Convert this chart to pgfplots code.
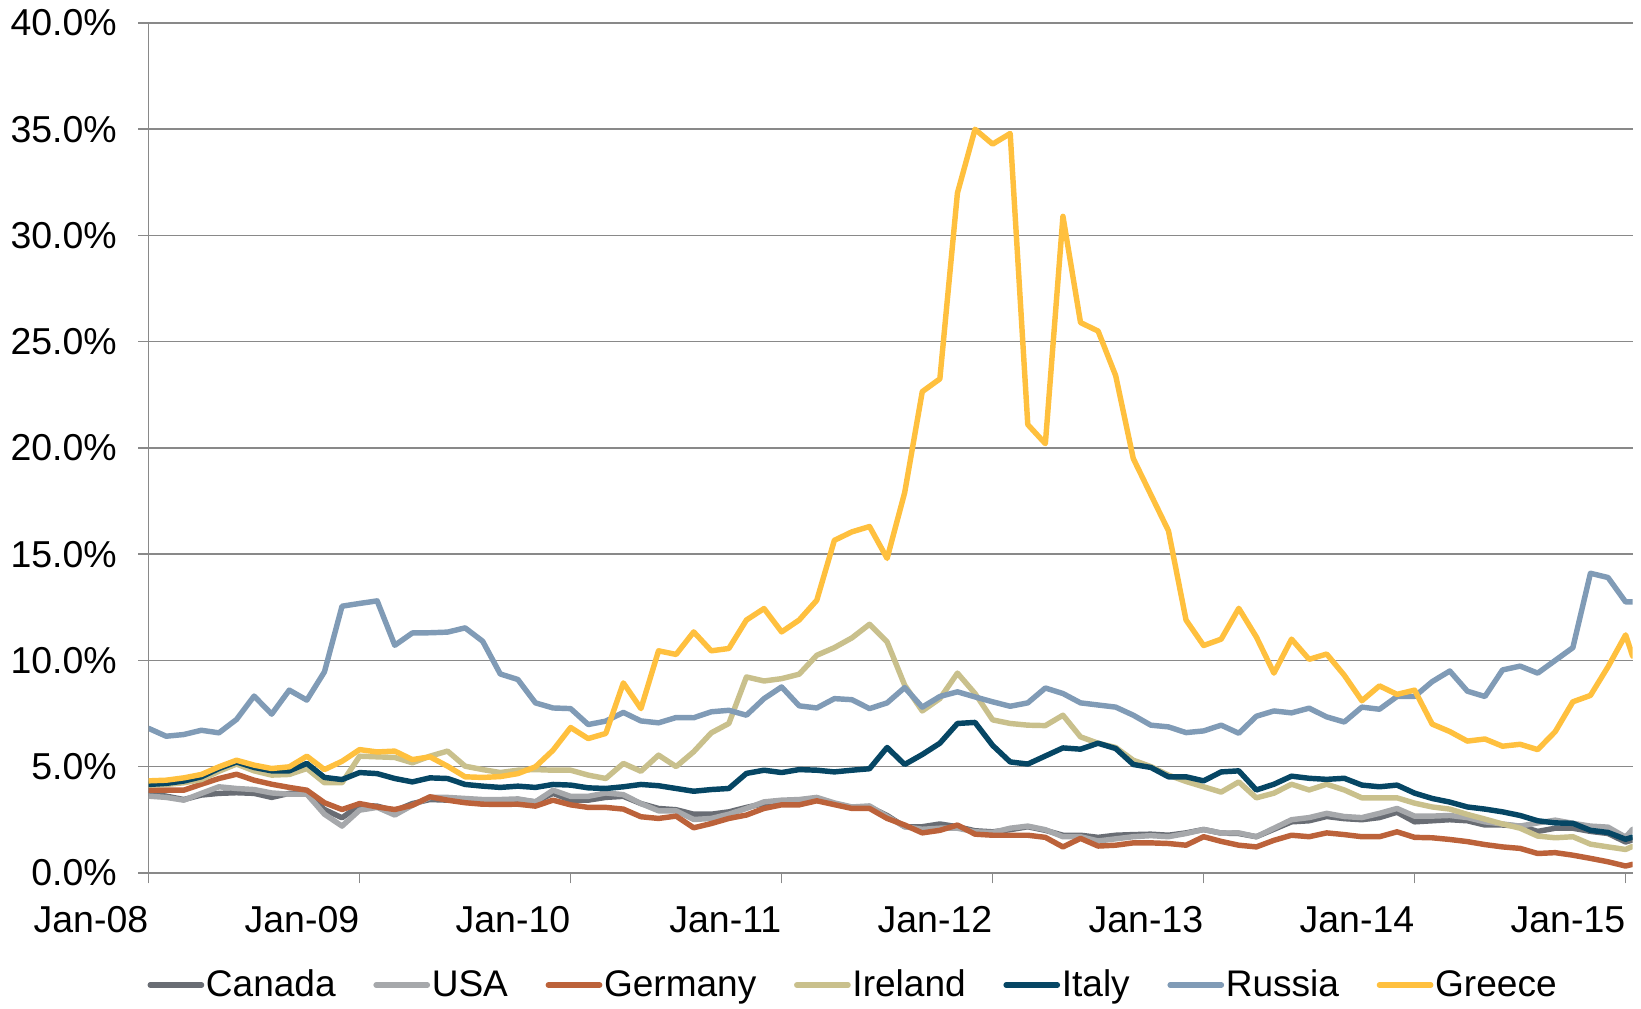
\documentclass[border=0pt]{standalone}
\usepackage{pgfplots}
\usepackage{pgfplotstable}
\pgfplotsset{compat=1.18}
\usepackage{fontspec}
\setmainfont{Liberation Sans}
\definecolor{cCanada}{RGB}{105,109,116}
\definecolor{cUSA}{RGB}{166,168,171}
\definecolor{cGermany}{RGB}{188,98,58}
\definecolor{cIreland}{RGB}{201,192,140}
\definecolor{cItaly}{RGB}{6,70,100}
\definecolor{cRussia}{RGB}{128,155,182}
\definecolor{cGreece}{RGB}{255,192,62}
\definecolor{cGrid}{RGB}{137,137,137}
\pgfplotstableread{
m ca us de ie it ru gr
0 3.74 3.61 3.89 4.13 4.16 6.80 4.33
1 3.61 3.55 3.89 4.16 4.21 6.43 4.36
2 3.45 3.42 3.89 4.24 4.32 6.51 4.47
3 3.66 3.74 4.17 4.39 4.52 6.71 4.63
4 3.74 4.05 4.44 4.78 4.91 6.59 4.99
5 3.77 3.97 4.64 5.12 5.22 7.22 5.30
6 3.74 3.92 4.36 4.80 4.96 8.32 5.07
7 3.55 3.76 4.17 4.60 4.80 7.47 4.91
8 3.74 3.70 4.02 4.63 4.80 8.60 4.99
9 3.74 3.70 3.89 4.91 5.15 8.13 5.49
10 2.98 2.76 3.30 4.24 4.49 9.46 4.86
11 2.59 2.20 2.98 4.24 4.39 12.55 5.25
12 3.18 2.95 3.26 5.49 4.72 12.68 5.80
13 3.14 3.08 3.10 5.46 4.67 12.80 5.69
14 2.92 2.72 2.98 5.43 4.44 10.71 5.73
15 3.26 3.18 3.18 5.18 4.28 11.29 5.33
16 3.45 3.55 3.58 5.49 4.47 11.30 5.46
17 3.42 3.55 3.42 5.73 4.44 11.33 5.02
18 3.45 3.50 3.30 5.02 4.16 11.53 4.52
19 3.39 3.45 3.23 4.86 4.08 10.90 4.49
20 3.36 3.45 3.22 4.72 4.02 9.36 4.53
21 3.45 3.48 3.23 4.83 4.08 9.10 4.67
22 3.34 3.34 3.14 4.86 4.02 8.00 4.99
23 3.74 3.89 3.42 4.83 4.16 7.76 5.77
24 3.42 3.60 3.20 4.83 4.13 7.73 6.84
25 3.42 3.60 3.08 4.60 4.00 6.98 6.32
26 3.55 3.76 3.08 4.44 3.97 7.14 6.56
27 3.60 3.68 3.00 5.15 4.05 7.55 8.94
28 3.26 3.26 2.64 4.78 4.16 7.15 7.73
29 3.03 2.92 2.56 5.54 4.10 7.06 10.45
30 2.97 2.92 2.67 5.00 3.97 7.31 10.28
31 2.76 2.51 2.12 5.70 3.84 7.30 11.34
32 2.76 2.56 2.32 6.59 3.92 7.58 10.45
33 2.87 2.76 2.56 7.03 3.97 7.65 10.56
34 3.08 3.03 2.72 9.22 4.68 7.42 11.90
35 3.26 3.34 3.03 9.03 4.83 8.20 12.44
36 3.34 3.42 3.20 9.14 4.72 8.75 11.34
37 3.39 3.45 3.20 9.35 4.86 7.86 11.90
38 3.42 3.55 3.39 10.24 4.83 7.76 12.83
39 3.26 3.29 3.21 10.60 4.75 8.20 15.65
40 3.08 3.10 3.03 11.06 4.83 8.15 16.05
41 3.10 3.15 3.03 11.70 4.90 7.73 16.30
42 2.70 2.65 2.56 10.87 5.90 8.00 14.80
43 2.17 2.17 2.25 8.83 5.10 8.72 17.90
44 2.17 2.05 1.88 7.62 5.57 7.80 22.65
45 2.30 2.10 2.00 8.20 6.10 8.30 23.25
46 2.17 2.10 2.25 9.40 7.03 8.52 32.00
47 1.98 1.93 1.82 8.44 7.08 8.28 35.00
48 1.93 1.90 1.77 7.20 6.00 8.05 34.30
49 2.03 2.10 1.77 7.03 5.22 7.84 34.80
50 2.17 2.20 1.77 6.95 5.12 8.00 21.10
51 2.00 2.03 1.67 6.93 5.50 8.70 20.20
52 1.77 1.70 1.22 7.42 5.88 8.44 30.90
53 1.77 1.70 1.62 6.40 5.82 8.00 25.90
54 1.67 1.50 1.26 6.10 6.10 7.90 25.50
55 1.77 1.60 1.30 5.90 5.85 7.80 23.40
56 1.80 1.70 1.41 5.30 5.10 7.42 19.50
57 1.82 1.75 1.41 5.00 4.96 6.95 17.80
58 1.77 1.70 1.38 4.60 4.52 6.87 16.10
59 1.88 1.85 1.30 4.30 4.52 6.60 11.90
60 2.04 2.04 1.70 4.05 4.33 6.68 10.70
61 1.87 1.87 1.48 3.80 4.75 6.95 11.00
62 1.85 1.88 1.30 4.28 4.80 6.57 12.45
63 1.70 1.70 1.22 3.53 3.90 7.37 11.10
64 2.05 2.10 1.53 3.75 4.17 7.62 9.40
65 2.40 2.50 1.77 4.17 4.55 7.53 11.00
66 2.45 2.60 1.70 3.90 4.45 7.75 10.05
67 2.65 2.80 1.88 4.17 4.40 7.34 10.30
68 2.55 2.65 1.80 3.90 4.45 7.10 9.30
69 2.50 2.60 1.70 3.53 4.13 7.80 8.10
70 2.60 2.80 1.70 3.53 4.05 7.70 8.80
71 2.85 3.03 1.93 3.53 4.13 8.30 8.40
72 2.40 2.67 1.67 3.28 3.75 8.30 8.60
73 2.45 2.67 1.65 3.10 3.50 9.00 7.00
74 2.50 2.70 1.57 3.00 3.33 9.50 6.65
75 2.45 2.60 1.47 2.75 3.10 8.55 6.20
76 2.25 2.40 1.33 2.53 3.00 8.30 6.30
77 2.25 2.30 1.22 2.30 2.87 9.55 5.96
78 2.20 2.20 1.15 2.10 2.70 9.73 6.05
79 1.95 2.35 0.91 1.73 2.45 9.40 5.80
80 2.10 2.48 0.95 1.65 2.35 10.00 6.65
81 2.10 2.33 0.83 1.70 2.33 10.60 8.05
82 1.95 2.20 0.68 1.35 2.00 14.10 8.35
83 1.85 2.15 0.52 1.22 1.90 13.90 9.70
84 1.45 1.68 0.32 1.10 1.58 12.75 11.20
84.4 1.55 2.05 0.40 1.25 1.68 12.75 10.20
}\datatable
\begin{document}
\begin{tikzpicture}
\begin{axis}[
  scale only axis,
  width=709bp, height=406bp,
  xmin=0, xmax=84.4, ymin=0, ymax=40,
  axis lines*=left,
  axis line style={draw=cGrid, line width=0.75bp},
  tick style={draw=cGrid, line width=0.75bp},
  tick align=outside,
  major tick length=5bp,
  xtick={0,12,24,36,48,60,72,84},
  xticklabels={Jan-08,Jan-09,Jan-10,Jan-11,Jan-12,Jan-13,Jan-14,Jan-15},
  ytick={0,5,10,15,20,25,30,35,40},
  yticklabels={0.0\%,5.0\%,10.0\%,15.0\%,20.0\%,25.0\%,30.0\%,35.0\%,40.0\%},
  ymajorgrids,
  grid style={draw=cGrid, line width=0.75bp},
  tick label style={font=\fontsize{17.9bp}{20bp}\selectfont, text=black},
  xticklabel style={anchor=north east, inner sep=0pt, yshift=-11bp},
  yticklabel style={anchor=east, inner sep=0pt, xshift=-10bp},
  every axis plot/.append style={line width=2.6bp, line join=round, line cap=round},
  legend columns=-1,
  legend image code/.code={\draw[#1] (0bp,0bp) -- (24.5bp,0bp);},
  legend style={at={(-0.001,-0.132)}, anchor=west, draw=none, fill=none, inner sep=0pt,
    font=\fontsize{17.7bp}{20bp}\selectfont,
    nodes={inner xsep=0.8bp, inner ysep=0pt},
    /tikz/every even column/.append style={column sep=17.2bp}},
]
\addplot[color=cCanada] table[x=m,y=ca]{\datatable};
\addlegendentry{Canada}
\addplot[color=cUSA] table[x=m,y=us]{\datatable};
\addlegendentry{USA}
\addplot[color=cGermany] table[x=m,y=de]{\datatable};
\addlegendentry{Germany}
\addplot[color=cIreland] table[x=m,y=ie]{\datatable};
\addlegendentry{Ireland}
\addplot[color=cItaly] table[x=m,y=it]{\datatable};
\addlegendentry{Italy}
\addplot[color=cRussia] table[x=m,y=ru]{\datatable};
\addlegendentry{Russia}
\addplot[color=cGreece] table[x=m,y=gr]{\datatable};
\addlegendentry{Greece}
\end{axis}
\pgfresetboundingbox
\path ([xshift=-71bp,yshift=-65bp]current axis.south west) rectangle ([xshift=4bp,yshift=11bp]current axis.north east);
\end{tikzpicture}
\end{document}
